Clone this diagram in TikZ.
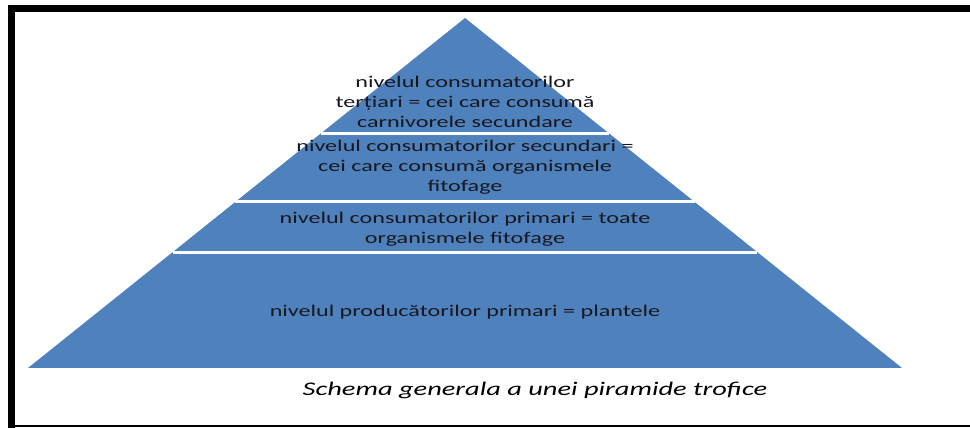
\documentclass[tikz,border=0pt]{standalone}
\usepackage{fontspec}
\setmainfont{Carlito}
\newfontfamily\widefont[FakeStretch=1.47]{Carlito}
\usetikzlibrary{calc}
\definecolor{tierblue}{RGB}{79,129,189}
\definecolor{tiertext}{RGB}{22,24,32}
\begin{document}
\begin{tikzpicture}[x=0.03cm,y=-0.03cm,
    tier/.style={fill=tierblue,draw=none},
    sep/.style={white,line width=0.09cm},
    lbl/.style={text=tiertext,align=center,inner sep=0pt,font=\widefont\fontsize{14}{17}\selectfont},
    frame/.style={black,line width=0.21cm}]
  \useasboundingbox (0,0) rectangle (970,428);
  % frame
  \draw[frame] (11.5,428) -- (11.5,8.5) -- (970,8.5);
  \draw[black,line width=0.04cm] (8,426) -- (970,426);
  % pyramid
  \coordinate (apex) at (465,18);
  \coordinate (bl) at (28,368);
  \coordinate (br) at (902,368);
  \fill[tier] (apex) -- (bl) -- (br) -- cycle;
  \foreach \t in {0.3286,0.5257,0.6686}
    \draw[sep] ($(apex)!\t!(bl)$) -- ($(apex)!\t!(br)$);
  % levels
  \node[lbl] (tertiari) at (465,102) {nivelul consumatorilor\\terțiari = cei care consumă\\carnivorele secundare};
  \node[lbl] (secundari) at (465,167) {nivelul consumatorilor secundari =\\cei care consumă organismele\\fitofage};
  \node[lbl] (primari) at (465,229) {nivelul consumatorilor primari = toate\\organismele fitofage};
  \node[lbl] (producatori) at (465,312) {nivelul producătorilor primari = plantele};
  \node[lbl,font=\widefont\fontsize{16.5}{20}\selectfont\itshape,text=black] (titlu) at (535,390) {Schema generala a unei piramide trofice};
\end{tikzpicture}
\end{document}
